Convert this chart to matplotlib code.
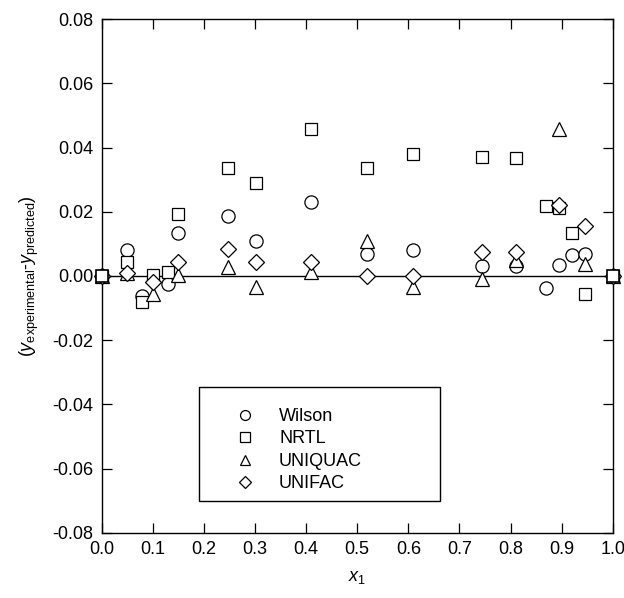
import matplotlib
matplotlib.use("Agg")
import matplotlib.pyplot as plt
from matplotlib.patches import Rectangle

plt.rcParams['font.family'] = ['Liberation Sans', 'DejaVu Sans']
plt.rcParams['mathtext.fontset'] = 'custom'
plt.rcParams['mathtext.rm'] = 'Liberation Sans'
plt.rcParams['mathtext.it'] = 'Liberation Sans:italic'

wilson_x = [0.0, 0.05, 0.078, 0.13, 0.15, 0.248, 0.302, 0.41, 0.52, 0.61, 0.745, 0.81, 0.87, 0.895, 0.92, 0.945, 1.0]
wilson_y = [0.0, 0.0080, -0.0062, -0.0026, 0.0135, 0.0187, 0.0110, 0.0230, 0.0068, 0.0081, 0.0030, 0.0032, -0.0038, 0.0035, 0.0066, 0.0070, 0.0]

nrtl_x = [0.0, 0.05, 0.078, 0.1, 0.13, 0.15, 0.248, 0.302, 0.41, 0.52, 0.61, 0.745, 0.81, 0.87, 0.895, 0.92, 0.945, 1.0]
nrtl_y = [0.0, 0.0045, -0.0081, 0.0003, 0.0013, 0.0193, 0.0335, 0.0290, 0.0457, 0.0336, 0.0379, 0.0372, 0.0367, 0.0217, 0.0212, 0.0133, -0.0055, 0.0]

uniquac_x = [0.0, 0.05, 0.1, 0.15, 0.248, 0.302, 0.41, 0.52, 0.61, 0.745, 0.81, 0.895, 0.945, 1.0]
uniquac_y = [0.0, 0.0010, -0.0055, 0.0003, 0.0027, -0.0033, 0.0013, 0.0110, -0.0033, -0.0010, 0.0050, 0.0457, 0.0038, 0.0]

unifac_x = [0.0, 0.05, 0.1, 0.15, 0.248, 0.302, 0.41, 0.52, 0.61, 0.745, 0.81, 0.895, 0.945, 1.0]
unifac_y = [0.0, 0.0008, -0.0020, 0.0045, 0.0084, 0.0044, 0.0044, 0.0, 0.0, 0.0076, 0.0076, 0.0222, 0.0157, 0.0]

labels = ['Wilson', 'NRTL', 'UNIQUAC', 'UNIFAC']
xticks = [0.0, 0.1, 0.2, 0.3, 0.4, 0.5, 0.6, 0.7, 0.8, 0.9, 1.0]
yticks = [-0.08, -0.06, -0.04, -0.02, 0.0, 0.02, 0.04, 0.06, 0.08]

fig = plt.figure(figsize=(6.24, 5.98), dpi=100)
ax = fig.add_axes([0.163, 0.109, 0.819, 0.859])

ax.plot([0, 1], [0, 0], color='black', lw=1.0, zorder=1)

series = [(wilson_x, wilson_y, 'o', 9.5),
          (nrtl_x, nrtl_y, 's', 9.0),
          (uniquac_x, uniquac_y, '^', 10.0),
          (unifac_x, unifac_y, 'D', 8.0)]
for (xs, ys, m, ms), lab in zip(series, labels):
    ax.plot(xs, ys, linestyle='none', marker=m, markersize=ms,
            markerfacecolor='white', markeredgecolor='black',
            markeredgewidth=0.9, label=lab, zorder=3, clip_on=False)
# NRTL square drawn on top at the end points, as in the reference
ax.plot([nrtl_x[0], nrtl_x[-1]], [nrtl_y[0], nrtl_y[-1]], linestyle='none',
        marker='s', markersize=9.0, markerfacecolor='white',
        markeredgecolor='black', markeredgewidth=1.2, zorder=4, clip_on=False)

ax.set_xlim(0, 1.0)
ax.set_ylim(-0.08, 0.08)
ax.set_xticks(xticks)
ax.set_yticks(yticks)
ax.set_xticklabels([f'{v:.1f}' for v in xticks])
ax.set_yticklabels([f'{v:.2f}' for v in yticks])
ax.tick_params(direction='in', length=7, width=0.9, labelsize=13,
               top=True, right=True, pad=6)
for s in ax.spines.values():
    s.set_linewidth(1.0)

ax.set_xlabel('$\\mathit{x}_1$', fontsize=13, labelpad=8)
ax.set_ylabel('($\\mathit{y}_{\\mathrm{experimental}}$-$\\mathit{y}_{\\mathrm{predicted}}$)',
              fontsize=13, labelpad=8)

# legend frame
ax.add_patch(Rectangle((0.190, 0.0623), 0.4716, 0.2218, transform=ax.transAxes,
                       facecolor='white', edgecolor='black', lw=1.0, zorder=5))
leg = ax.legend(loc='upper left', bbox_to_anchor=(0.227, 0.243),
                frameon=False, fontsize=13, markerscale=0.75,
                handletextpad=0.4, borderpad=0, labelspacing=0.3,
                borderaxespad=0, handlelength=3.0)
leg.set_zorder(6)

fig.savefig('out.png', dpi=100)
